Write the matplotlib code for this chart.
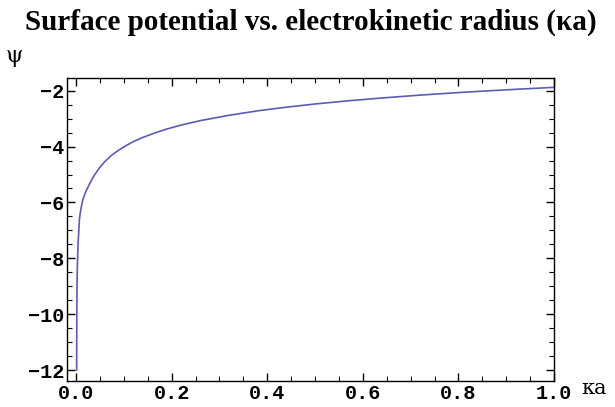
import matplotlib
matplotlib.use('Agg')
import matplotlib.pyplot as plt
from matplotlib.ticker import MultipleLocator

# values
ka = [0.0012, 0.0015, 0.002, 0.0028, 0.0035, 0.0045, 0.0056, 0.007, 0.0085,
      0.0105, 0.014, 0.02, 0.028, 0.038, 0.049, 0.06, 0.075, 0.09, 0.105,
      0.12, 0.14, 0.165, 0.19, 0.22, 0.26, 0.32, 0.38, 0.43, 0.5, 0.57,
      0.64, 0.72, 0.8, 0.85, 0.92, 1.0]
psi = [-12.0, -10.2, -8.9, -8.2, -7.8, -7.35, -7.05, -6.6, -6.4,
       -6.2, -5.91, -5.62, -5.34, -5.03, -4.76, -4.54, -4.30, -4.12, -3.96,
       -3.82, -3.67, -3.51, -3.37, -3.23, -3.07, -2.88, -2.72, -2.61, -2.475, -2.36,
       -2.26, -2.157, -2.067, -2.016, -1.95, -1.88]

title = 'Surface potential vs. electrokinetic radius (κa)'

fig = plt.figure(figsize=(6.15, 4.07), dpi=100)
ax = fig.add_axes([67 / 615, 26 / 407, 487 / 615, 303 / 407])

ax.plot(ka, psi, color='#5c5cb4', linewidth=1.2)

ax.set_xlim(-0.019, 1.0)
ax.set_ylim(-12.39, -1.545)

ax.xaxis.set_major_locator(MultipleLocator(0.2))
ax.xaxis.set_minor_locator(MultipleLocator(0.05))
ax.yaxis.set_major_locator(MultipleLocator(2))
ax.yaxis.set_minor_locator(MultipleLocator(0.5))
ax.xaxis.set_major_formatter(plt.FuncFormatter(lambda x, _: f'{x:.1f}'))
ax.yaxis.set_major_formatter(plt.FuncFormatter(lambda y, _: f'\u2212{abs(y):.0f}'))

ax.tick_params(which='both', direction='in', top=True, right=True,
               labeltop=False, labelright=False, color='black')
ax.tick_params(which='major', length=6, width=1, pad=2)
ax.tick_params(which='minor', length=3.5, width=0.8)
for lab in ax.get_xticklabels() + ax.get_yticklabels():
    lab.set_fontfamily('Liberation Mono')
    lab.set_fontweight('bold')
    lab.set_fontsize(14.5)
for s in ax.spines.values():
    s.set_linewidth(1.0)

fig.text(311 / 615, 1 - 22 / 407, title, ha='center', va='center',
         fontfamily='Liberation Serif', fontweight='bold', fontsize=21)
fig.text(6 / 615, 1 - 56 / 407, 'ψ', ha='left', va='center',
         fontfamily='DejaVu Serif', fontsize=16)
fig.text(581 / 615, 1 - 388 / 407, 'κa', ha='left', va='center',
         fontfamily='DejaVu Serif', fontsize=15)

plt.savefig('out.png', dpi=100)
plt.close()
